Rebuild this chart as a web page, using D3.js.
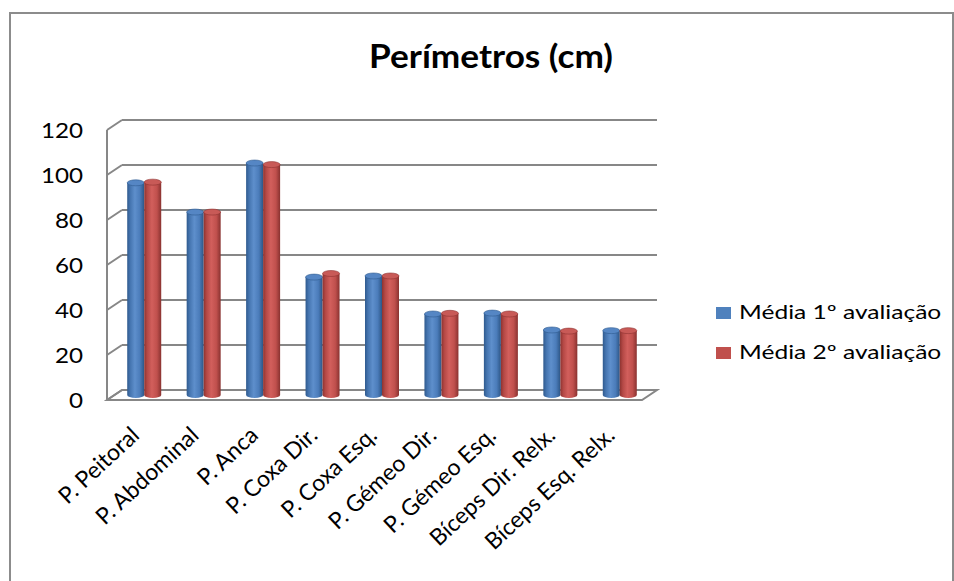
<!DOCTYPE html>
<html>
<head>
<meta charset="utf-8">
<script src="https://cdn.jsdelivr.net/npm/d3@7"></script>
<style>
  html, body { margin: 0; padding: 0; background: #fff; }
  svg { display: block; font-family: Lato, "Open Sans", sans-serif; }
</style>
</head>
<body>
<svg id="chart" width="954" height="581"></svg>
<script>
// Perímetros (cm) — two evaluation rounds per body measurement
const categories = [
  "P. Peitoral", "P. Abdominal", "P. Anca", "P. Coxa Dir.", "P. Coxa Esq.",
  "P. Gémeo Dir.", "P. Gémeo Esq.", "Bíceps Dir. Relx.", "Bíceps Esq. Relx."
];
const media1 = [94.3, 81.3, 103.1, 52.4, 52.9, 36.0, 36.4, 28.9, 28.6];
const media2 = [94.6, 81.3, 102.4, 54.0, 52.9, 36.3, 36.0, 28.4, 28.6];
const seriesNames = ["Média 1º avaliação", "Média 2º avaliação"];
const yTicks = [0, 20, 40, 60, 80, 100, 120];

const svg = d3.select("#chart");

// Outer chart frame
svg.append("rect")
  .attr("x", 10).attr("y", 13).attr("width", 943).attr("height", 620)
  .attr("fill", "none").attr("stroke", "#8c8c8c").attr("stroke-width", 2);

// Title (drawn slightly wide, like the rest of the chart text)
svg.append("text")
  .attr("transform", "translate(491,68) scale(1.1,1)")
  .attr("text-anchor", "middle")
  .attr("font-weight", "bold").attr("font-size", 32)
  .attr("fill", "#000")
  .text("Perímetros (cm)");

// 3D projection: front plane plus depth offset
const depthX = 15, depthY = -10;
const x = d3.scaleBand().domain(categories).range([107, 642]);
const y = d3.scaleLinear().domain([0, 120]).range([400, 130]);

const grid = svg.append("g").attr("stroke", "#878787").attr("stroke-width", 2).attr("fill", "none");

// Floor
const x0 = x.range()[0], x1 = x.range()[1], y0 = y(0);
grid.append("path")
  .attr("fill", "#fff")
  .attr("d", `M${x0},${y0}L${x0 + depthX},${y0 + depthY}L${x1 + depthX},${y0 + depthY}L${x1},${y0}Z`);

// Left wall front edge
grid.append("line")
  .attr("x1", x0).attr("y1", y(0)).attr("x2", x0).attr("y2", y(120));

// Back-wall gridlines and left-wall diagonals
yTicks.forEach(t => {
  const yy = y(t);
  if (t > 0) {
    grid.append("line")
      .attr("x1", x0 + depthX).attr("y1", yy + depthY)
      .attr("x2", x1 + depthX).attr("y2", yy + depthY);
  }
  grid.append("line")
    .attr("x1", x0).attr("y1", yy)
    .attr("x2", x0 + depthX).attr("y2", yy + depthY);
});

// Y tick labels
svg.append("g").selectAll("text").data(yTicks).join("text")
  .attr("transform", d => `translate(83,${y(d)}) scale(1.1,1)`)
  .attr("dy", "0.36em")
  .attr("text-anchor", "end")
  .attr("font-size", 22).attr("fill", "#000")
  .text(d => d);

// Cylinder gradients
const defs = svg.append("defs");
function cylGradient(id, stops) {
  const g = defs.append("linearGradient").attr("id", id)
    .attr("x1", "0%").attr("x2", "100%").attr("y1", "0%").attr("y2", "0%");
  stops.forEach(([o, c]) => g.append("stop").attr("offset", o).attr("stop-color", c));
}
cylGradient("gBlue", [["0%", "#2f5a8e"], ["18%", "#4575b0"], ["45%", "#5e8fcc"], ["75%", "#4b7cba"], ["100%", "#2d5686"]]);
cylGradient("gRed", [["0%", "#8e3330"], ["18%", "#b54946"], ["45%", "#d25f5c"], ["75%", "#c0504d"], ["100%", "#893230"]]);

const colors = [
  { body: "url(#gBlue)", top: "#5586c4", edge: "#2f5a8e" },
  { body: "url(#gRed)", top: "#c85a57", edge: "#8e3330" }
];

const cylW = 17, ry = 3;
const series = [media1, media2];
const bars = svg.append("g");

categories.forEach((cat, i) => {
  const cx = x(cat) + x.bandwidth() / 2 + depthX / 2;
  series.forEach((vals, s) => {
    const left = cx - cylW + s * cylW;
    const right = left + cylW;
    const rx = cylW / 2;
    const yb = y(0) + depthY / 2;
    const yt = y(vals[i]) + depthY / 2;
    const c = colors[s];
    bars.append("path")
      .attr("fill", c.body)
      .attr("d", `M${left},${yt}L${left},${yb}A${rx},${ry} 0 0 0 ${right},${yb}L${right},${yt}Z`);
    bars.append("ellipse")
      .attr("cx", left + rx).attr("cy", yt)
      .attr("rx", rx).attr("ry", ry)
      .attr("fill", c.top).attr("stroke", c.edge).attr("stroke-width", 0.6);
  });
});

// Category labels, rotated
svg.append("g").selectAll("text").data(categories).join("text")
  .attr("transform", d => `translate(${x(d) + x.bandwidth() / 2 + 4},${437}) rotate(-43)`)
  .attr("text-anchor", "end")
  .attr("font-size", 23).attr("fill", "#000")
  .text(d => d);

// Legend
const legend = svg.append("g").attr("transform", "translate(716,300)");
seriesNames.forEach((name, i) => {
  const g = legend.append("g").attr("transform", `translate(0,${i * 40})`);
  g.append("rect").attr("x", 0).attr("y", 7).attr("width", 15).attr("height", 12)
    .attr("fill", i === 0 ? "#4f81bd" : "#c0504d");
  g.append("text")
    .attr("transform", "translate(23,19) scale(1.26,1)")
    .attr("font-size", 19.5).attr("fill", "#000")
    .text(name);
});
</script>
</body>
</html>
